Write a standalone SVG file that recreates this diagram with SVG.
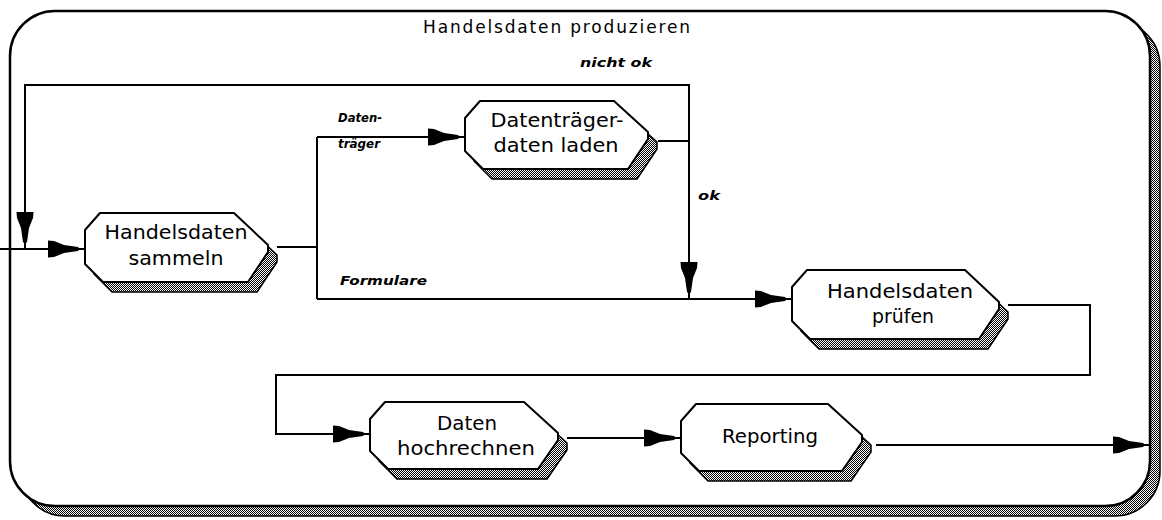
<svg xmlns="http://www.w3.org/2000/svg" width="1162" height="520" viewBox="0 0 1162 520">
<defs>
<pattern id="dots" width="2" height="2" patternUnits="userSpaceOnUse">
<rect width="2" height="2" fill="#ffffff"/>
<rect width="1" height="1" fill="#000000"/>
<rect x="1" y="1" width="1" height="1" fill="#000000"/>
</pattern>
<marker id="ah" markerUnits="userSpaceOnUse" markerWidth="40" markerHeight="20" viewBox="0 -10 40 20" refX="37" refY="0" orient="auto">
<path d="M0,-8.5 L6,-8 L16,-4 L30,-2 L32,0 L30,2 L16,4 L6,8 L0,8.5 Z" fill="#000"/>
</marker>
</defs>
<style>
.shadow{fill:url(#dots);stroke:#000;stroke-width:1.5;stroke-linejoin:round}
.shape{fill:#fff;stroke:#000;stroke-width:2;stroke-linejoin:round}
.conn{fill:none;stroke:#000;stroke-width:2;marker-end:url(#ah)}
.line{fill:none;stroke:#000;stroke-width:2}
.lbl{font-family:"DejaVu Sans","Liberation Sans",sans-serif;font-size:19px;fill:#000;text-anchor:middle}
.sm{font-family:"DejaVu Sans","Liberation Sans",sans-serif;font-size:12px;font-style:italic;font-weight:bold;fill:#000}
.title{font-family:"DejaVu Sans","Liberation Sans",sans-serif;font-size:17px;fill:#000}
</style>
<rect width="1162" height="520" fill="#fff"/>
<g id="frame">
<rect x="20" y="21" width="1140" height="495" rx="45" ry="45" class="shadow"/>
<rect x="10" y="11" width="1140" height="495" rx="45" ry="45" fill="#fff" stroke="#000" stroke-width="2.5"/>
<text x="423" y="33" class="title" textLength="267" lengthAdjust="spacing">Handelsdaten produzieren</text>
</g>
<g id="connectors">
<path class="conn" d="M0,249 H85"/>
<path class="line" d="M277,247 H317 M317,137 V299"/>
<path class="conn" d="M317,137 H465"/>
<path class="conn" d="M317,299 H792"/>
<path class="conn" d="M658,141 H689 V85 H25 V249"/>
<path class="conn" d="M689,141 V299"/>
<path class="conn" d="M1008,305 H1090 V375 H276 V434 H370"/>
<path class="conn" d="M567,438 H681"/>
<path class="conn" d="M876,445 H1150"/>
<text x="338" y="122" class="sm" textLength="44" lengthAdjust="spacingAndGlyphs">Daten-</text>
<text x="338" y="148" class="sm" textLength="42" lengthAdjust="spacingAndGlyphs">träger</text>
<text x="340" y="285" class="sm" textLength="87" lengthAdjust="spacingAndGlyphs">Formulare</text>
<text x="580" y="67" class="sm" textLength="72" lengthAdjust="spacingAndGlyphs">nicht ok</text>
<text x="698" y="200" class="sm" textLength="22" lengthAdjust="spacingAndGlyphs">ok</text>
</g>
<g id="n-sammeln" transform="translate(85,213)">
<path class="shadow" transform="translate(9,10)" d="M15,0 H149 L183,32 V39 L163,69 H18 L0,51 V17 Z"/>
<path class="shape" d="M15,0 H149 L183,32 V39 L163,69 H18 L0,51 V17 Z"/>
<text class="lbl" x="91" y="26" textLength="143" lengthAdjust="spacingAndGlyphs">Handelsdaten</text>
<text class="lbl" x="91" y="52" textLength="95" lengthAdjust="spacingAndGlyphs">sammeln</text>
</g>
<g id="n-traeger" transform="translate(465,101)">
<path class="shadow" transform="translate(9,10)" d="M15,0 H149 L183,31 V38 L163,68 H18 L0,50 V17 Z"/>
<path class="shape" d="M15,0 H149 L183,31 V38 L163,68 H18 L0,50 V17 Z"/>
<text class="lbl" x="92" y="26" textLength="133" lengthAdjust="spacingAndGlyphs">Datenträger-</text>
<text class="lbl" x="91" y="51" textLength="125" lengthAdjust="spacingAndGlyphs">daten laden</text>
</g>
<g id="n-pruefen" transform="translate(792,270)">
<path class="shadow" transform="translate(9,10)" d="M15,0 H173 L207,32 V39 L187,69 H18 L0,51 V17 Z"/>
<path class="shape" d="M15,0 H173 L207,32 V39 L187,69 H18 L0,51 V17 Z"/>
<text class="lbl" x="108" y="28" textLength="146" lengthAdjust="spacingAndGlyphs">Handelsdaten</text>
<text class="lbl" x="111" y="53" textLength="62" lengthAdjust="spacingAndGlyphs">prüfen</text>
</g>
<g id="n-hochrechnen" transform="translate(370,402)">
<path class="shadow" transform="translate(9,10)" d="M15,0 H154 L188,31 V38 L168,67 H18 L0,49 V17 Z"/>
<path class="shape" d="M15,0 H154 L188,31 V38 L168,67 H18 L0,49 V17 Z"/>
<text class="lbl" x="97" y="28" textLength="60" lengthAdjust="spacingAndGlyphs">Daten</text>
<text class="lbl" x="96" y="53" textLength="138" lengthAdjust="spacingAndGlyphs">hochrechnen</text>
</g>
<g id="n-reporting" transform="translate(681,404)">
<path class="shadow" transform="translate(9,10)" d="M15,0 H147 L181,31 V38 L161,67 H18 L0,49 V17 Z"/>
<path class="shape" d="M15,0 H147 L181,31 V38 L161,67 H18 L0,49 V17 Z"/>
<text class="lbl" x="89" y="39" textLength="96" lengthAdjust="spacingAndGlyphs">Reporting</text>
</g>
</svg>
